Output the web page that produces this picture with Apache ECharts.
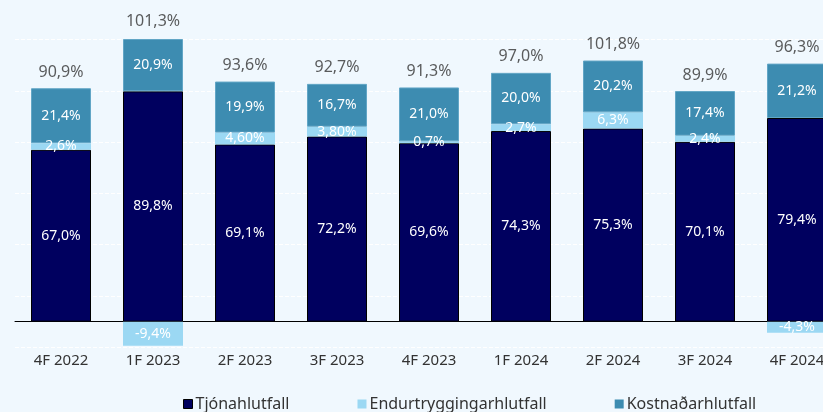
<!DOCTYPE html>
<html>
<head>
<meta charset="utf-8">
<script src="https://cdn.jsdelivr.net/npm/echarts@6/dist/echarts.min.js"></script>
<style>
  html, body { margin: 0; padding: 0; background: #f0f8fe; overflow: hidden; }
  #chart { width: 843px; height: 412px; }
</style>
</head>
<body>
<div id="chart"></div>
<script>
// ársfjórðungar
const quarters = ["4F 2022", "1F 2023", "2F 2023", "3F 2023", "4F 2023", "1F 2024", "2F 2024", "3F 2024", "4F 2024"];
const tjon = [67.0, 89.8, 69.1, 72.2, 69.6, 74.3, 75.3, 70.1, 79.4];
const endur = [2.6, -9.4, 4.6, 3.8, 0.7, 2.7, 6.3, 2.4, -4.3];
const endurLabels = ["2,6%", "-9,4%", "4,60%", "3,80%", "0,7%", "2,7%", "6,3%", "2,4%", "-4,3%"];
const kostn = [21.4, 20.9, 19.9, 16.7, 21.0, 20.0, 20.2, 17.4, 21.2];
const total = [90.9, 101.3, 93.6, 92.7, 91.3, 97.0, 101.8, 89.9, 96.3];

const fmt = v => v.toFixed(1).replace(".", ",") + "%";
// efsti punktur hverrar súlu (jákvæðir hlutar staflaðir)
const stackTop = quarters.map((q, i) => [q, tjon[i] + Math.max(endur[i], 0) + kostn[i]]);

const font = "Noto Sans";
const inside = { show: true, position: "inside", color: "#ffffff", fontSize: 14, fontFamily: font };

// teiknisvæðið er 20px breiðara en glugginn svo síðasta súlan klippist eins og í fyrirmyndinni
const chart = echarts.init(document.getElementById("chart"));
chart.setOption({
  backgroundColor: "#f0f8fe",
  animation: false,
  textStyle: { fontFamily: font },
  grid: { left: 15, right: 0, top: 39.5, bottom: 64.7 },
  legend: {
    left: 183, top: 396, padding: 0,
    itemWidth: 9, itemHeight: 9, itemGap: 68,
    icon: "rect",
    textStyle: { fontSize: 16, color: "#333333", fontFamily: font, padding: [0, 0, 0, -2] },
    data: [
      { name: "Tjónahlutfall", itemStyle: { borderColor: "#000000", borderWidth: 1 } },
      { name: "Endurtryggingarhlutfall" },
      { name: "Kostnaðarhlutfall", itemStyle: { borderWidth: 0 } }
    ]
  },
  xAxis: {
    type: "category",
    data: quarters,
    axisLine: { onZero: true, lineStyle: { color: "#000000", width: 1 } },
    axisTick: { show: false },
    axisLabel: { margin: 6, fontSize: 15, color: "#333333", fontFamily: font }
  },
  yAxis: {
    type: "value",
    min: -10, max: 110, interval: 20,
    axisLabel: { show: false },
    axisLine: { show: false },
    axisTick: { show: false },
    splitLine: { lineStyle: { color: "#ffffff", type: [4, 2], width: 1 } }
  },
  series: [
    {
      name: "Tjónahlutfall", type: "bar", stack: "a", barWidth: 60,
      data: tjon,
      itemStyle: { color: "#00005f", borderColor: "#000000", borderWidth: 1 },
      label: Object.assign({}, inside, { formatter: p => fmt(p.value) })
    },
    {
      name: "Endurtryggingarhlutfall", type: "bar", stack: "a",
      data: endur,
      itemStyle: { color: "#9bd8f3" },
      label: Object.assign({}, inside, { formatter: p => endurLabels[p.dataIndex] })
    },
    {
      name: "Kostnaðarhlutfall", type: "bar", stack: "a",
      data: kostn,
      itemStyle: { color: "#3d8cb1", borderColor: "#62a6c6", borderWidth: 1 },
      label: Object.assign({}, inside, { formatter: p => fmt(p.value) })
    },
    {
      name: "Samsett", type: "scatter", symbolSize: 0, clip: false,
      data: stackTop,
      silent: true,
      label: {
        show: true, position: "top", distance: 8,
        fontSize: 16, color: "#333333", fontFamily: font,
        formatter: p => fmt(total[p.dataIndex])
      }
    }
  ]
});
</script>
</body>
</html>
